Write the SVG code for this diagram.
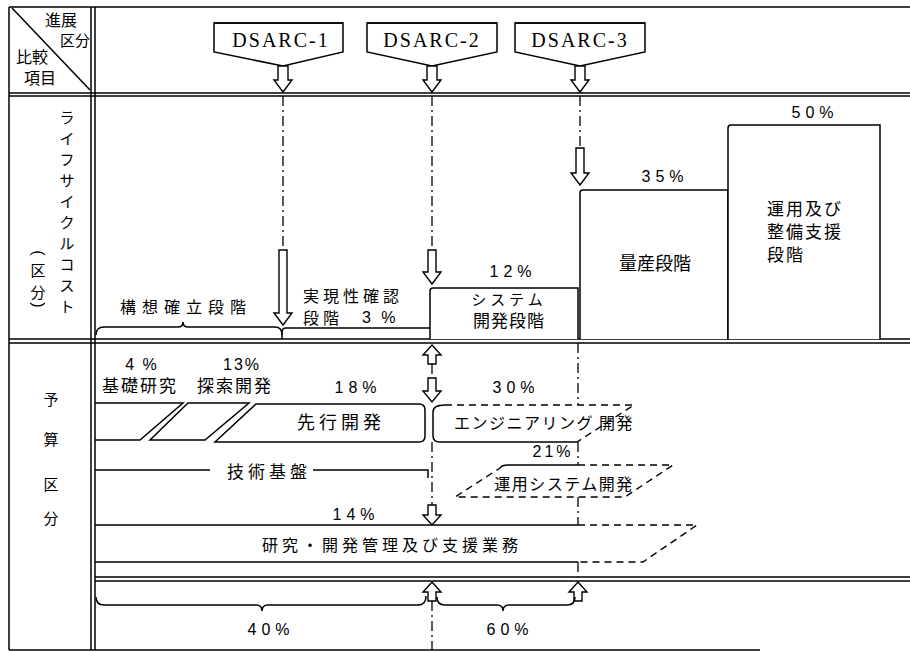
<svg xmlns="http://www.w3.org/2000/svg" width="910" height="652" viewBox="0 0 910 652">
<defs>
<style>
.ln{stroke:#000;stroke-width:1.5;fill:none}
.bx{stroke:#000;stroke-width:1.5;fill:#fff}
.dd{stroke:#000;stroke-width:1.3;stroke-dasharray:10 4 2 4;fill:none}
.ds{stroke:#000;stroke-width:1.4;stroke-dasharray:7 5;fill:none}
.arr{fill:#fff;stroke:#000;stroke-width:1.4;stroke-linejoin:miter}
.jp{font-family:"Noto Sans CJK JP","Noto Sans CJK SC",sans-serif;fill:#000}
.pct{font-family:"Liberation Sans",Arial,sans-serif;font-size:16px;letter-spacing:5px;fill:#000;text-anchor:middle}
.ds-t{font-family:"Liberation Serif","Times New Roman",serif;font-size:20px;letter-spacing:2px;text-anchor:middle;fill:#000}
.m{text-anchor:middle}
</style>
</defs>
<rect width="910" height="652" fill="#fff"/>

<g id="frame">
<line class="ln" x1="9" y1="7" x2="910" y2="7"/>
<line class="ln" x1="9" y1="93" x2="910" y2="93"/>
<line class="ln" x1="9" y1="96" x2="910" y2="96"/>
<line class="ln" x1="9" y1="339" x2="910" y2="339"/>
<line class="ln" x1="9" y1="343" x2="910" y2="343"/>
<line class="ln" x1="95" y1="577" x2="910" y2="577"/>
<line class="ln" x1="95" y1="581" x2="910" y2="581"/>
<line class="ln" x1="9" y1="650" x2="760" y2="650"/>
<line class="ln" x1="9" y1="7" x2="9" y2="650"/>
<line class="ln" x1="91" y1="7" x2="91" y2="650"/>
<line class="ln" x1="95" y1="7" x2="95" y2="650"/>
<line class="ln" x1="12" y1="8" x2="90" y2="90" stroke-width="1.2"/>
</g>

<g id="header-labels" class="jp">
<text x="61" y="26" font-size="16" class="m">進展</text>
<text x="75" y="46" font-size="15" class="m">区分</text>
<text x="32" y="63" font-size="16" class="m">比較</text>
<text x="40" y="84" font-size="16" class="m">項目</text>
</g>

<g id="row-label-lcc" class="jp" font-size="15" text-anchor="middle">
<text x="67" y="123">ラ</text>
<text x="67" y="144">イ</text>
<text x="67" y="165">フ</text>
<text x="67" y="186">サ</text>
<text x="67" y="207">イ</text>
<text x="67" y="228">ク</text>
<text x="67" y="249">ル</text>
<text x="67" y="270">コ</text>
<text x="67" y="291">ス</text>
<text x="67" y="312">ト</text>
<text transform="translate(38,253) rotate(90)" font-family="Liberation Sans, sans-serif" font-size="16" dominant-baseline="central">(</text>
<text x="38" y="276">区</text>
<text x="38" y="298">分</text>
<text transform="translate(38,305) rotate(90)" font-family="Liberation Sans, sans-serif" font-size="16" dominant-baseline="central">)</text>
</g>

<g id="row-label-budget" class="jp" font-size="15" text-anchor="middle">
<text x="51" y="405">予</text>
<text x="51" y="445">算</text>
<text x="51" y="490">区</text>
<text x="51" y="524">分</text>
</g>

<g id="dsarc-1">
<path class="bx" d="M214 23 H343 V52 L283 66 L214 52 Z"/>
<line class="ln" x1="214" y1="23" x2="343" y2="23" stroke-width="2.5"/>
<text class="ds-t" x="281" y="47">DSARC-1</text>
</g>
<g id="dsarc-2">
<path class="bx" d="M367 23 H497 V52 L432 66 L367 52 Z"/>
<line class="ln" x1="367" y1="23" x2="497" y2="23" stroke-width="2.5"/>
<text class="ds-t" x="432" y="47">DSARC-2</text>
</g>
<g id="dsarc-3">
<path class="bx" d="M515 23 H645 V52 L580 66 L515 52 Z"/>
<line class="ln" x1="515" y1="23" x2="645" y2="23" stroke-width="2.5"/>
<text class="ds-t" x="580" y="47">DSARC-3</text>
</g>

<g id="connectors">
<line class="dd" x1="283" y1="96" x2="283" y2="250"/>
<line class="dd" x1="432" y1="96" x2="432" y2="250"/>
<line class="dd" x1="580" y1="96" x2="580" y2="148"/>
<line class="dd" x1="432" y1="364" x2="432" y2="378"/>
<line class="dd" x1="432" y1="442" x2="432" y2="505"/>
<line class="dd" x1="432" y1="601" x2="432" y2="650"/>
<line class="dd" x1="578" y1="343" x2="578" y2="405"/>
<line class="dd" x1="578" y1="442" x2="578" y2="465"/>
<line class="dd" x1="578" y1="497" x2="578" y2="525"/>
<line class="dd" x1="578" y1="562" x2="578" y2="577"/>
<path class="arr" d="M278 66 V80 H274 L283 92 L292 80 H288 V66 Z"/>
<path class="arr" d="M427 66 V80 H423 L432 92 L441 80 H437 V66 Z"/>
<path class="arr" d="M575 66 V80 H571 L580 92 L589 80 H585 V66 Z"/>
<path class="arr" d="M279 250 V313 H274 L283 325 L292 313 H287 V250 Z"/>
<path class="arr" d="M428 250 V272 H423 L432 284 L441 272 H436 V250 Z"/>
<path class="arr" d="M576 148 V173 H571 L580 185 L589 173 H584 V148 Z"/>
<path class="arr" d="M432 345 L441 355 H436 V364 H428 V355 H423 Z"/>
<path class="arr" d="M428 378 V391 H423 L432 402 L441 391 H436 V378 Z"/>
<path class="arr" d="M428 505 V515 H423 L432 525 L441 515 H436 V505 Z"/>
<path class="arr" d="M432 582 L441 592 H436 V601 H428 V592 H423 Z"/>
<path class="arr" d="M578 582 L587 592 H582 V601 H574 V592 H569 Z"/>
<path class="ln" d="M96 335 Q96 327 104 327 H178 Q183 327 183 322 Q183 327 188 327 H275 Q282 327 282 335"/>
<path class="ln" d="M96 597 Q96 605 104 605 H256 Q262 605 262 611 Q262 605 268 605 H418 Q426 605 426 596"/>
<path class="ln" d="M437 597 Q437 605 445 605 H497 Q503 605 503 611 Q503 605 509 605 H567 Q575 605 575 597"/>
</g>

<g id="phase-concept" class="jp">
<text x="186" y="313" font-size="16" letter-spacing="6" class="m">構想確立段階</text>
</g>
<g id="phase-feasibility">
<path class="ln" d="M282 339 V332 Q282 328 286 328 H430"/>
<text class="jp" x="303" y="302" font-size="16" letter-spacing="4">実現性確認</text>
<text class="jp" x="303" y="324" font-size="16" letter-spacing="4">段階</text>
<text class="pct" x="362" y="323" style="text-anchor:start;letter-spacing:3px">3 %</text>
</g>
<g id="phase-system">
<path class="bx" d="M430 339 V291 Q430 288 433 288 H578 V339"/>
<text class="pct" x="513" y="277">12%</text>
<text class="jp m" x="509" y="305" font-size="15" letter-spacing="4">システム</text>
<text class="jp m" x="509" y="327" font-size="17" letter-spacing="1">開発段階</text>
</g>
<g id="phase-production">
<path class="bx" d="M580 339 V193 Q580 190 583 190 H728 V339"/>
<text class="pct" x="665" y="182">35%</text>
<text class="jp m" x="655" y="270" font-size="18">量産段階</text>
</g>
<g id="phase-operation">
<path class="bx" d="M728 339 V128 Q728 125 731 125 H880 V339"/>
<text class="pct" x="815" y="118">50%</text>
<text class="jp" x="767" y="215" font-size="17" letter-spacing="2">運用及び</text>
<text class="jp" x="767" y="238" font-size="17" letter-spacing="2">整備支援</text>
<text class="jp" x="767" y="261" font-size="17" letter-spacing="2">段階</text>
</g>

<g id="budget-basic">
<path class="ln" d="M95 403 H183 L140 440 H95"/>
<text class="pct" x="142" y="370" style="letter-spacing:2px">4 %</text>
<text class="jp m" x="140" y="392" font-size="17" letter-spacing="2">基礎研究</text>
</g>
<g id="budget-exploratory">
<path class="ln" d="M188 403 H249 L205 440 H150 Z"/>
<text class="pct" x="242" y="370" style="letter-spacing:2px">13%</text>
<text class="jp m" x="235" y="392" font-size="17" letter-spacing="2">探索開発</text>
</g>
<g id="budget-advanced">
<path class="ln" d="M256 404 H419 Q425 404 425 410 V436 Q425 442 419 442 H215 Z"/>
<text class="pct" x="358" y="393">18%</text>
<text class="jp m" x="341" y="429" font-size="18" letter-spacing="4">先行開発</text>
</g>
<g id="budget-engineering">
<path class="ln" d="M445 405 Q433 405 433 412 V436 Q433 442 440 442 H577"/>
<path class="ds" d="M445 405 H634 L577 442"/>
<text class="pct" x="516" y="393">30%</text>
<text class="jp m" x="544" y="429" font-size="16" letter-spacing="1.5">エンジニアリング 開発</text>
<text class="pct" x="553" y="457" style="letter-spacing:3px">21%</text>
</g>
<g id="budget-tech-base">
<line class="ln" x1="95" y1="470" x2="210" y2="470"/>
<path class="ln" d="M313 470 H428 V478"/>
<text class="jp m" x="269" y="478" font-size="17" letter-spacing="4">技術基盤</text>
</g>
<g id="budget-ops-system">
<path class="ln" d="M500 468 Q502 465 508 465 H578"/>
<path class="ds" d="M578 465 H673 L625 497 H455 L500 468"/>
<text class="jp m" x="564" y="490" font-size="16" letter-spacing="1.5">運用システム開発</text>
</g>
<g id="budget-management">
<line class="ln" x1="95" y1="525" x2="578" y2="525"/>
<line class="ln" x1="95" y1="562" x2="578" y2="562"/>
<path class="ds" d="M578 525 H697 L643 562 H578"/>
<text class="pct" x="356" y="520">14%</text>
<text class="jp m" x="392" y="551" font-size="16" letter-spacing="4">研究・開発管理及び支援業務</text>
</g>
<g id="totals">
<text class="pct" x="271" y="635">40%</text>
<text class="pct" x="510" y="635">60%</text>
</g>
</svg>
